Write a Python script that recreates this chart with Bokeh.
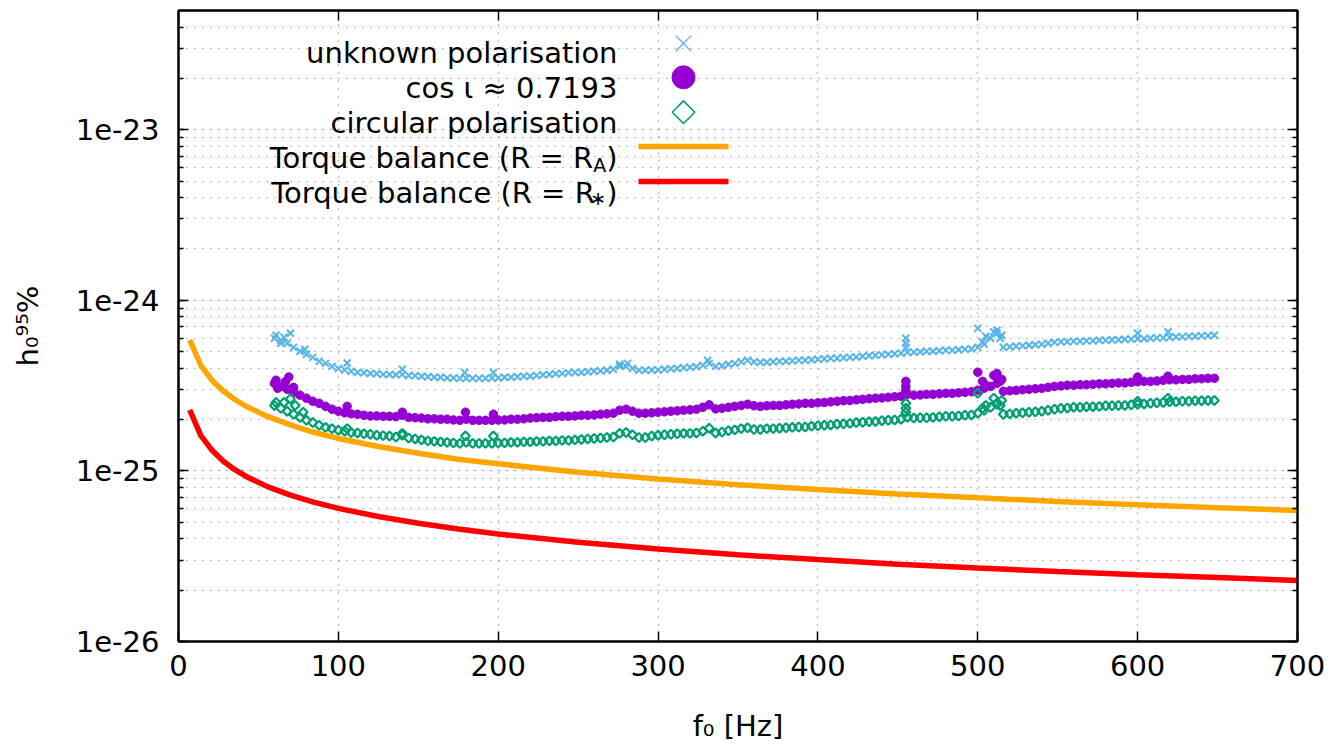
import math
from bokeh.plotting import figure
from bokeh.models import (Range1d, LinearAxis, LogAxis, LogTicker, FixedTicker,
                          Label, CustomJSTickFormatter)
from bokeh.embed import file_html
from bokeh.resources import INLINE

# ---------------- data ----------------
F_GRID = [60, 64, 68, 72, 76, 80, 84, 88, 92, 96, 100, 104, 108, 112, 116, 120, 124, 128, 132, 136,
          140, 144, 148, 152, 156, 160, 164, 168, 172, 176, 180, 184, 188, 192, 196, 200, 204, 208, 212, 216,
          220, 224, 228, 232, 236, 240, 244, 248, 252, 256, 260, 264, 268, 272, 276, 280, 284, 288, 292, 296,
          300, 304, 308, 312, 316, 320, 324, 328, 332, 336, 340, 344, 348, 352, 356, 360, 364, 368, 372, 376,
          380, 384, 388, 392, 396, 400, 404, 408, 412, 416, 420, 424, 428, 432, 436, 440, 444, 448, 452, 456,
          460, 464, 468, 472, 476, 480, 484, 488, 492, 496, 500, 504, 508, 512, 516, 520, 524, 528, 532, 536,
          540, 544, 548, 552, 556, 560, 564, 568, 572, 576, 580, 584, 588, 592, 596, 600, 604, 608, 612, 616,
          620, 624, 628, 632, 636, 640, 644, 648]

# h0 (95%) in units of 1e-25
UNKNOWN_POL = [5.99, 5.83, 5.60, 5.30, 5.03, 4.83, 4.63, 4.39, 4.27, 4.10, 3.99, 3.91, 3.84, 3.78, 3.76, 3.73, 3.71, 3.68, 3.68, 3.66,
               3.68, 3.63, 3.61, 3.59, 3.56, 3.54, 3.54, 3.51, 3.51, 3.49, 3.49, 3.49, 3.49, 3.49, 3.51, 3.51, 3.54, 3.54, 3.56, 3.59,
               3.59, 3.63, 3.66, 3.68, 3.71, 3.73, 3.76, 3.78, 3.78, 3.81, 3.84, 3.86, 3.89, 3.94, 4.10, 4.10, 3.99, 3.89, 3.89, 3.91,
               3.91, 3.94, 3.97, 3.99, 4.02, 4.05, 4.08, 4.16, 4.27, 4.10, 4.13, 4.22, 4.27, 4.36, 4.45, 4.36, 4.33, 4.33, 4.36, 4.39,
               4.39, 4.42, 4.45, 4.45, 4.48, 4.51, 4.54, 4.57, 4.57, 4.60, 4.63, 4.66, 4.70, 4.73, 4.76, 4.79, 4.83, 4.86, 4.89, 4.96,
               4.96, 4.99, 5.03, 5.03, 5.06, 5.09, 5.09, 5.13, 5.16, 5.20, 5.30, 5.52, 5.99, 6.41, 5.30, 5.34, 5.38, 5.41, 5.45, 5.49,
               5.52, 5.60, 5.67, 5.71, 5.71, 5.75, 5.75, 5.79, 5.79, 5.83, 5.83, 5.87, 5.87, 5.91, 5.91, 5.95, 5.95, 5.99, 6.03, 6.03,
               6.07, 6.11, 6.11, 6.15, 6.15, 6.19, 6.19, 6.24]

COS_IOTA = [3.26, 3.13, 3.01, 2.89, 2.78, 2.67, 2.56, 2.49, 2.39, 2.30, 2.24, 2.19, 2.16, 2.15, 2.12, 2.10, 2.10, 2.09, 2.09, 2.08,
            2.12, 2.06, 2.05, 2.04, 2.02, 2.02, 2.01, 2.01, 1.99, 1.98, 2.01, 1.98, 1.98, 1.98, 1.98, 1.99, 1.99, 2.01, 2.01, 2.02,
            2.04, 2.05, 2.06, 2.06, 2.08, 2.09, 2.09, 2.10, 2.12, 2.12, 2.13, 2.15, 2.16, 2.18, 2.27, 2.30, 2.24, 2.18, 2.18, 2.19,
            2.21, 2.22, 2.24, 2.25, 2.27, 2.28, 2.30, 2.36, 2.44, 2.31, 2.33, 2.36, 2.39, 2.42, 2.46, 2.41, 2.39, 2.41, 2.42, 2.42,
            2.44, 2.46, 2.47, 2.49, 2.49, 2.51, 2.52, 2.54, 2.56, 2.58, 2.59, 2.61, 2.63, 2.65, 2.67, 2.68, 2.70, 2.72, 2.74, 2.81,
            2.78, 2.79, 2.81, 2.81, 2.83, 2.85, 2.85, 2.87, 2.89, 2.91, 2.97, 3.05, 3.13, 3.26, 2.93, 2.95, 2.97, 2.99, 3.01, 3.03,
            3.05, 3.09, 3.13, 3.15, 3.18, 3.18, 3.20, 3.20, 3.22, 3.24, 3.24, 3.26, 3.28, 3.28, 3.31, 3.33, 3.35, 3.35, 3.37, 3.40,
            3.42, 3.42, 3.44, 3.44, 3.47, 3.47, 3.49, 3.49]

CIRCULAR_POL = [2.42, 2.33, 2.24, 2.15, 2.06, 1.98, 1.92, 1.85, 1.80, 1.77, 1.73, 1.71, 1.68, 1.67, 1.65, 1.64, 1.62, 1.61, 1.60, 1.58,
                1.62, 1.56, 1.54, 1.52, 1.50, 1.49, 1.48, 1.47, 1.46, 1.45, 1.47, 1.45, 1.45, 1.45, 1.45, 1.46, 1.46, 1.47, 1.47, 1.48,
                1.48, 1.49, 1.49, 1.50, 1.50, 1.51, 1.51, 1.52, 1.53, 1.54, 1.55, 1.56, 1.57, 1.58, 1.66, 1.68, 1.63, 1.57, 1.57, 1.60,
                1.62, 1.63, 1.64, 1.65, 1.66, 1.66, 1.67, 1.71, 1.78, 1.67, 1.69, 1.72, 1.74, 1.77, 1.79, 1.75, 1.75, 1.77, 1.77, 1.78,
                1.79, 1.80, 1.81, 1.81, 1.83, 1.84, 1.85, 1.86, 1.88, 1.89, 1.90, 1.92, 1.93, 1.94, 1.95, 1.97, 1.98, 1.99, 2.01, 2.06,
                2.04, 2.05, 2.05, 2.06, 2.08, 2.09, 2.09, 2.10, 2.12, 2.13, 2.18, 2.27, 2.36, 2.46, 2.15, 2.16, 2.18, 2.19, 2.21, 2.22,
                2.24, 2.27, 2.30, 2.33, 2.34, 2.36, 2.36, 2.38, 2.38, 2.39, 2.41, 2.41, 2.42, 2.42, 2.44, 2.46, 2.47, 2.49, 2.51, 2.52,
                2.54, 2.54, 2.56, 2.56, 2.58, 2.58, 2.59, 2.59]

# scattered outlying points (frequency, value in 1e-25)
UNKNOWN_OUT_F = [61, 66, 70, 64, 79, 105.5, 140, 179, 197, 276, 281, 331, 455, 455, 455, 500, 503, 505, 510, 512, 514, 515, 600, 619]
UNKNOWN_OUT_H = [6.24, 6.08, 6.41, 5.60, 5.16, 4.29, 3.94, 3.78, 3.78, 4.22, 4.27, 4.45, 5.99, 5.60, 5.30, 6.85, 5.70, 6.15, 6.52, 6.67, 5.99, 6.24, 6.41, 6.52]
COS_OUT_F = [61, 62, 67, 69, 72, 105.5, 140, 179.5, 197, 455, 455, 455, 500, 503, 505, 510, 512, 514, 515, 600, 619]
COS_OUT_H = [3.40, 3.05, 3.34, 3.55, 3.09, 2.39, 2.21, 2.21, 2.15, 3.35, 3.13, 2.97, 3.79, 3.35, 3.18, 3.63, 3.73, 3.35, 3.44, 3.55, 3.59]
CIRC_OUT_F = [61, 66, 70, 73, 78, 105.5, 140, 179.5, 197, 455, 455, 455, 500, 503, 505, 510, 512, 514, 515, 600, 619]
CIRC_OUT_H = [2.52, 2.52, 2.65, 2.42, 2.21, 1.77, 1.66, 1.60, 1.60, 2.49, 2.33, 2.21, 2.85, 2.33, 2.42, 2.67, 2.49, 2.42, 2.59, 2.56, 2.67]

# torque-balance curves
F_TORQUE = [7, 14, 21, 28, 35, 42, 56, 70, 84, 100, 125, 150, 175, 200, 250, 300, 350, 400, 450, 500, 550, 600, 650, 700]
TORQUE_RA = [5.87e-25, 4.15e-25, 3.39e-25, 2.94e-25, 2.63e-25, 2.40e-25, 2.08e-25, 1.86e-25, 1.69e-25, 1.55e-25,
             1.39e-25, 1.27e-25, 1.17e-25, 1.10e-25, 9.82e-26, 8.97e-26, 8.30e-26, 7.77e-26, 7.32e-26, 6.95e-26,
             6.62e-26, 6.34e-26, 6.09e-26, 5.87e-26]
TORQUE_RSTAR = [2.28e-25, 1.61e-25, 1.32e-25, 1.14e-25, 1.02e-25, 9.31e-26, 8.06e-26, 7.21e-26, 6.58e-26, 6.03e-26,
                5.40e-26, 4.93e-26, 4.56e-26, 4.27e-26, 3.82e-26, 3.48e-26, 3.22e-26, 3.02e-26, 2.84e-26, 2.70e-26,
                2.57e-26, 2.46e-26, 2.37e-26, 2.28e-26]

X_TICKS = [0, 100, 200, 300, 400, 500, 600, 700]
UNIT = 1e-25

# ---------------- styling / layout ----------------
C_BLUE, C_PURPLE, C_GREEN, C_ORANGE, C_RED = "#56b4e9", "#9400d3", "#009e73", "#ffa500", "#ff0000"
FONT = "DejaVu Sans"
FS = 29
SUB = 19

X_MIN, X_MAX = 0, 700
Y_MIN, Y_MAX = 1e-26, 5e-23
W, H = 1343, 747
ML, MT = 178, 10
FW, FH = 1119, 631
MR, MB = W - ML - FW, H - MT - FH
FL, FT, FB = ML, MT, MT + FH  # frame edges in picture coords

p = figure(width=W, height=H, x_range=Range1d(X_MIN, X_MAX), y_range=Range1d(Y_MIN, Y_MAX),
           y_axis_type="log", output_backend="svg", toolbar_location=None,
           min_border_left=ML, min_border_right=MR, min_border_top=MT, min_border_bottom=MB)
p.background_fill_color = "white"
p.border_fill_color = "white"
p.outline_line_color = "black"
p.outline_line_width = 2

log_fmt = CustomJSTickFormatter(code="return '1e' + Math.round(Math.log10(tick));")
p.xaxis.ticker = FixedTicker(ticks=X_TICKS)
p.yaxis.ticker = LogTicker(num_minor_ticks=10)
p.yaxis.formatter = log_fmt

for ax in list(p.xaxis) + list(p.yaxis):
    ax.major_tick_in = 10
    ax.major_tick_out = 0
    ax.minor_tick_in = 5
    ax.minor_tick_out = 0
    ax.axis_line_width = 2
    ax.major_tick_line_width = 1.5
    ax.minor_tick_line_width = 1.5
    ax.major_label_text_font = FONT
    ax.major_label_text_font_size = f"{FS}px"
    ax.major_label_text_color = "black"
    ax.axis_label_text_font = FONT
    ax.axis_label_text_font_size = f"{FS}px"
    ax.axis_label_text_font_style = "normal"
    ax.axis_label_text_color = "black"
p.xaxis.minor_tick_line_color = None
p.xaxis.major_label_standoff = 13
p.yaxis.major_label_standoff = 19
p.xaxis.axis_label = "f\u2080 [Hz]"
p.xaxis.axis_label_standoff = 30
p.yaxis.axis_label = "h\u2080\u2079\u2075%"
p.yaxis.axis_label_standoff = 28

blank = CustomJSTickFormatter(code="return '';")
right_ax = LogAxis(ticker=LogTicker(num_minor_ticks=10), formatter=blank, major_label_text_font_size="0px",
                   major_label_standoff=0, major_tick_in=10, major_tick_out=0, minor_tick_in=5, minor_tick_out=0,
                   axis_line_width=2, major_tick_line_width=1.5, minor_tick_line_width=1.5)
p.add_layout(right_ax, "right")
top_ax = LinearAxis(ticker=FixedTicker(ticks=X_TICKS), formatter=blank, major_label_text_font_size="0px",
                    major_label_standoff=0, major_tick_in=10, major_tick_out=0, minor_tick_line_color=None,
                    axis_line_width=2, major_tick_line_width=1.5)
p.add_layout(top_ax, "above")

for g in (p.xgrid, p.ygrid):
    g.grid_line_color = "#777777"
    g.grid_line_dash = "1 7"
    g.grid_line_width = 1.2
p.ygrid.minor_grid_line_color = "#777777"
p.ygrid.minor_grid_line_dash = "1 7"
p.ygrid.minor_grid_line_width = 1.2

# ---------------- series ----------------
blue_kw = dict(marker="x", size=10, line_color=C_BLUE, line_width=2)
purple_kw = dict(marker="circle", size=8.5, fill_color=C_PURPLE, line_color=C_PURPLE)
green_kw = dict(marker="square", angle=math.pi / 4, size=6.3, fill_alpha=0, line_color=C_GREEN, line_width=2.2)

p.scatter(F_GRID, [v * UNIT for v in UNKNOWN_POL], **blue_kw)
p.scatter(UNKNOWN_OUT_F, [v * UNIT for v in UNKNOWN_OUT_H], **blue_kw)
p.scatter(F_GRID, [v * UNIT for v in COS_IOTA], **purple_kw)
p.scatter(COS_OUT_F, [v * UNIT for v in COS_OUT_H], **purple_kw)
p.scatter(F_GRID, [v * UNIT for v in CIRCULAR_POL], **green_kw)
p.scatter(CIRC_OUT_F, [v * UNIT for v in CIRC_OUT_H], **green_kw)
p.line(F_TORQUE, TORQUE_RA, line_color=C_ORANGE, line_width=5.5)
p.line(F_TORQUE, TORQUE_RSTAR, line_color=C_RED, line_width=5.5)


# ---------------- legend (text right-aligned, sample on the right) ----------------
def to_data(px, py):
    fx = (px - FL) / FW
    fy = (FB - py) / FH
    x = X_MIN + fx * (X_MAX - X_MIN)
    ly = math.log10(Y_MIN) + fy * (math.log10(Y_MAX) - math.log10(Y_MIN))
    return x, 10 ** ly


def label(text, px, py, size=FS, align="right", baseline="alphabetic"):
    p.add_layout(Label(x=px - FL, y=FB - py, x_units="screen", y_units="screen", text=text,
                       text_font=FONT, text_font_size=f"{size}px", text_color="black",
                       text_align=align, text_baseline=baseline))


LEG_TEXT_R = 617
LEG_BASE = [52.9, 87.8, 122.7, 157.6, 192.5]
LEG_MID_X, LEG_X0, LEG_X1 = 683, 638, 728

label("unknown polarisation", LEG_TEXT_R, LEG_BASE[0])
label("cos \u03b9 \u2248 0.7193", LEG_TEXT_R, LEG_BASE[1])
label("circular polarisation", LEG_TEXT_R, LEG_BASE[2])
w_paren = 0.390 * FS
w_subA = 0.684 * SUB
w_subS = 0.60 * SUB
label(")", LEG_TEXT_R, LEG_BASE[3])
label("A", LEG_TEXT_R - w_paren, LEG_BASE[3] + 6.7, size=SUB)
label("Torque balance (R = R", LEG_TEXT_R - w_paren - w_subA, LEG_BASE[3])
label(")", LEG_TEXT_R, LEG_BASE[4])
label("\u2217", LEG_TEXT_R - w_paren, LEG_BASE[4] + 5, size=SUB)
label("Torque balance (R = R", LEG_TEXT_R - w_paren - w_subS, LEG_BASE[4])

lx, ly = to_data(LEG_MID_X, LEG_BASE[0] - 10)
p.scatter([lx], [ly], marker="x", size=22, line_color=C_BLUE, line_width=1.4)
lx, ly = to_data(LEG_MID_X, LEG_BASE[1] - 11)
p.scatter([lx], [ly], marker="circle", size=23, fill_color=C_PURPLE, line_color=C_PURPLE)
lx, ly = to_data(LEG_MID_X, LEG_BASE[2] - 11)
p.scatter([lx], [ly], marker="square", angle=math.pi / 4, size=16, fill_alpha=0, line_color=C_GREEN, line_width=1.6)
x0, ya = to_data(LEG_X0, LEG_BASE[3] - 11.5)
x1, _ = to_data(LEG_X1, LEG_BASE[3] - 11.5)
p.line([x0, x1], [ya, ya], line_color=C_ORANGE, line_width=5.5)
x0, yr = to_data(LEG_X0, LEG_BASE[4] - 11.5)
x1, _ = to_data(LEG_X1, LEG_BASE[4] - 11.5)
p.line([x0, x1], [yr, yr], line_color=C_RED, line_width=5.5)

open("out.html", "w").write(file_html(p, INLINE))
